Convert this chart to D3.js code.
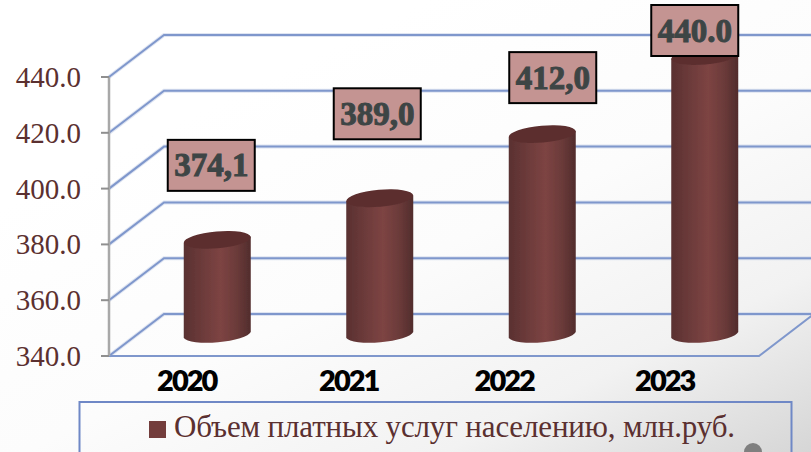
<!DOCTYPE html>
<html><head><meta charset="utf-8">
<style>html,body{margin:0;padding:0;background:#fff;overflow:hidden}svg{display:block}</style>
<script src="https://cdn.jsdelivr.net/npm/d3@7/dist/d3.min.js"></script>
</head><body><svg id="c" width="811" height="452"></svg>
<script>
const categories = ["2020","2021","2022","2023"];
const values = [374.1,389.0,412.0,440.0];
const valueLabels = ["374,1","389,0","412,0","440.0"];
const yTicks = [340,360,380,400,420,440];
const seriesName = "Объем платных услуг населению, млн.руб.";

const W=811,H=452, depthX=55, depthY=42;
const svg=d3.select("#c");
const defs=svg.append("defs");
const y=d3.scaleLinear().domain([340,440]).range([356,77]);
const x=d3.scaleBand().domain(categories).range([136,786]).paddingInner(0).paddingOuter(0);
const floorRight=759;

const bg=defs.append("linearGradient").attr("id","bg").attr("x1","0.3").attr("y1","0.2").attr("x2","1").attr("y2","1");
[[0,"#ffffff"],[0.4,"#fcfcfc"],[0.72,"#f2f2f2"],[1,"#d6d6d6"]].forEach(s=>bg.append("stop").attr("offset",s[0]).attr("stop-color",s[1]));
const cyl=defs.append("linearGradient").attr("id","cyl");
[[0,"#593030"],[0.15,"#643636"],[0.55,"#7d4443"],[0.8,"#6a3a39"],[1,"#512c2c"]].forEach(s=>cyl.append("stop").attr("offset",s[0]).attr("stop-color",s[1]));
defs.append("filter").attr("id","soft").append("feGaussianBlur").attr("stdDeviation",0.6);

svg.append("rect").attr("width",W).attr("height",H).attr("fill","url(#bg)");

// grid walls
const grid=svg.append("g").attr("fill","none");
function gridPath(t){const yy=y(t);return `M109,${yy}L${109+depthX},${yy-depthY}L${W+2},${yy-depthY}`;}
grid.selectAll("path.halo").data(yTicks).join("path").attr("d",gridPath).attr("stroke","#c9d3ea").attr("stroke-width",4).attr("opacity",.6);
grid.selectAll("path.line").data(yTicks).join("path").attr("d",gridPath).attr("stroke","#7f97cc").attr("stroke-width",2);
// floor front edge
grid.append("path").attr("d",`M109,${y(340)}L${floorRight},${y(340)}L${floorRight+depthX},${y(340)-depthY}`).attr("stroke","#7f97cc").attr("stroke-width",2);

// y axis
svg.append("line").attr("x1",109).attr("x2",109).attr("y1",y(440)).attr("y2",y(340)).attr("stroke","#a8a8a8").attr("stroke-width",2.5);
svg.selectAll("line.tick").data(yTicks).join("line").attr("x1",101).attr("x2",109).attr("y1",d=>y(d)).attr("y2",d=>y(d)).attr("stroke","#8f8f8f").attr("stroke-width",2);
svg.selectAll("text.yl").data(yTicks).join("text").attr("x",81).attr("y",d=>y(d)+10)
  .attr("text-anchor","end").attr("font-family","Liberation Serif").attr("font-size",29).attr("fill","#5b3030")
  .text(d=>d3.format(".1f")(d));

// cylinders
const rx=34, ry=8.5, rot=-5, tilt=3, baseY=y(340)-21;
const cw=33.5;
const bars=svg.append("g").attr("filter","url(#soft)");
bars.selectAll("path.body").data(categories).join("path").attr("fill","url(#cyl)")
 .attr("d",(c,i)=>{const cx=x(c)+x.bandwidth()/2, top=y(values[i])-21;
   return `M${cx-cw},${top+tilt}A${rx},${ry} ${rot} 0 1 ${cx+cw},${top-tilt}L${cx+cw},${baseY-tilt}A${rx},${ry} ${rot} 0 1 ${cx-cw},${baseY+tilt}Z`;});
bars.selectAll("ellipse.top").data(categories).join("ellipse").attr("fill","#5c2f2f")
 .attr("rx",cw).attr("ry",ry)
 .attr("transform",(c,i)=>`translate(${x(c)+x.bandwidth()/2},${y(values[i])-21}) rotate(${rot})`);

// x labels
const xLabelShift=[-30.5,-31,-38,-40];
svg.selectAll("text.xl").data(categories).join("text")
 .attr("x",(c,i)=>x(c)+x.bandwidth()/2+xLabelShift[i]).attr("y",391)
 .attr("text-anchor","middle").attr("font-family","Lato").attr("font-weight",800).attr("font-size",29)
 .attr("letter-spacing",-2).attr("fill","#000").text(c=>c);

// value labels: callouts were placed by hand in the original, so offsets are per label
const labelShift=[[-6,-74.5],[-2.5,-84.5],[10.5,-56.5],[-10,-25.5]];
const lh=51, lw=87;
const labels=svg.selectAll("g.vl").data(categories).join("g")
 .attr("transform",(c,i)=>{const cx=x(c)+x.bandwidth()/2+labelShift[i][0];
   const cy=y(values[i])-21+labelShift[i][1]; return `translate(${cx},${cy})`;});
labels.append("rect").attr("x",-lw/2).attr("y",-lh/2).attr("width",lw).attr("height",lh)
 .attr("fill","#c49492").attr("stroke","#000").attr("stroke-width",2);
labels.append("text").attr("text-anchor","middle").attr("y",11)
 .attr("font-family","Liberation Serif").attr("font-weight",700).attr("font-size",33)
 .attr("fill","#3d4545").attr("stroke","#3d4545").attr("stroke-width",1).text((c,i)=>valueLabels[i]);

// legend
svg.append("rect").attr("x",79.5).attr("y",402).attr("width",712).attr("height",80).attr("fill","none").attr("stroke","#6f88c6").attr("stroke-width",2);
svg.append("rect").attr("x",149).attr("y",421).attr("width",17).attr("height",17).attr("fill","#733d3c");
svg.append("text").attr("x",174).attr("y",437).attr("font-family","Liberation Serif").attr("font-size",31)
 .attr("fill","#5b3030").attr("textLength",561).attr("lengthAdjust","spacing").text(seriesName);
svg.append("circle").attr("cx",753).attr("cy",452).attr("r",9).attr("fill","#7f7f7f");
</script></body></html>
